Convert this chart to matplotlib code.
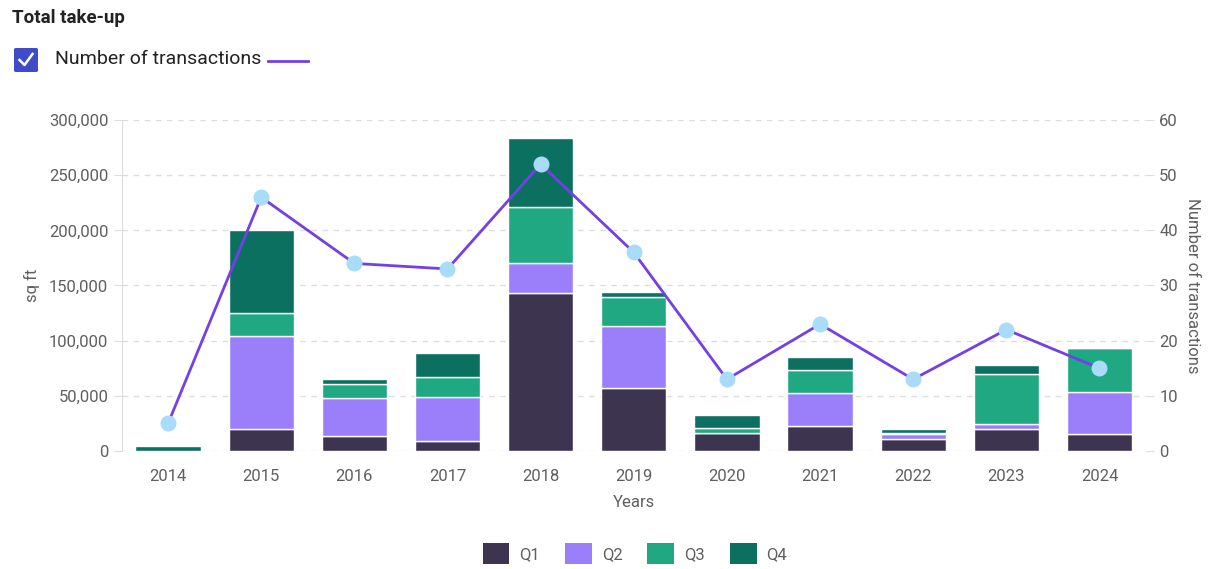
import numpy as np
import matplotlib.pyplot as plt
from matplotlib.patches import FancyBboxPatch, Patch
from matplotlib.lines import Line2D
from matplotlib.ticker import FuncFormatter

plt.rcParams['font.family'] = ['Roboto', 'DejaVu Sans']

years = ['2014', '2015', '2016', '2017', '2018', '2019', '2020', '2021', '2022', '2023', '2024']
q1 = [0, 20000, 13600, 9000, 143000, 57000, 16300, 22600, 10500, 19700, 15400]
q2 = [0, 84000, 34400, 40000, 27000, 56000, 0, 29900, 4500, 4800, 38000]
q3 = [0, 21000, 12700, 18000, 51000, 27000, 4500, 20800, 1000, 45300, 39800]
q4 = [4500, 75000, 4500, 22000, 62600, 4000, 11800, 11800, 4000, 8200, 0]
transactions = [5, 46, 34, 33, 52, 36, 13, 23, 13, 22, 15]

kolory = ['#3d3550', '#9b7ffa', '#1fa882', '#0b7060']
nazwy = ['Q1', 'Q2', 'Q3', 'Q4']
kolor_linii = '#7340e8'
szary = '#5f5f5f'

fig = plt.figure(figsize=(12.14, 5.69), dpi=100)
ax = fig.add_axes([0.1001, 0.2074, 0.8439, 0.5817])
ax2 = ax.twinx()

x = np.arange(len(years))
dol = np.zeros(len(years))
for wartosci, kolor in zip([q1, q2, q3, q4], kolory):
    ax.bar(x, wartosci, 0.7, bottom=dol, color=kolor, edgecolor='white', linewidth=1.0, zorder=2)
    dol += np.array(wartosci)

ax.set_xlim(-0.5, len(years) - 0.5)
ax.set_ylim(0, 300000)
ax.set_yticks(np.arange(0, 300001, 50000))
ax.yaxis.set_major_formatter(FuncFormatter(lambda v, p: f'{int(v):,}'))
ax.set_xticks(x)
ax.set_xticklabels(years)
ax.grid(axis='y', color='#dddddd', linestyle=(0, (4, 4)), linewidth=1, zorder=0)
ax.set_axisbelow(True)
for s in ['top', 'right', 'bottom']:
    ax.spines[s].set_visible(False)
ax.spines['left'].set_color('#dddddd')
ax.tick_params(axis='y', colors='#dddddd', labelcolor=szary, labelsize=12, length=6)
ax.tick_params(axis='x', length=0, labelcolor=szary, labelsize=12, pad=13)
ax.set_xlabel('Years', color=szary, fontsize=12, labelpad=8)
ax.set_ylabel('sq ft', color=szary, fontsize=12, labelpad=6)

ax2.plot(x, transactions, color=kolor_linii, linewidth=2, zorder=3)
ax2.scatter(x, transactions, s=110, color='#a8dcfa', zorder=4)
ax2.set_ylim(0, 60)
ax2.set_yticks(np.arange(0, 61, 10))
for s in ['top', 'right', 'bottom', 'left']:
    ax2.spines[s].set_visible(False)
ax2.tick_params(axis='y', colors='#dddddd', labelcolor=szary, labelsize=12, length=6)
ax2.set_ylabel('Number of transactions', color=szary, fontsize=12, rotation=270, labelpad=16)

# naglowek
fig.text(0.0099, 0.968, 'Total take-up', fontsize=13.5, fontweight='bold', color='#222222', va='center')
pole = FancyBboxPatch((14 / 1214, 1 - 72 / 569), 24 / 1214, 24 / 569,
                      boxstyle='round,pad=0,rounding_size=0.002', transform=fig.transFigure,
                      facecolor='#3f4bc7', edgecolor='none')
fig.patches.append(pole)
fig.lines.append(Line2D([19.5 / 1214, 24.5 / 1214, 32.5 / 1214], [1 - 60 / 569, 1 - 65 / 569, 1 - 54 / 569],
                        transform=fig.transFigure, color='white', linewidth=1.8))
fig.text(55 / 1214, 1 - 59 / 569, 'Number of transactions', fontsize=14, color='#222222', va='center')
fig.lines.append(Line2D([268 / 1214, 308 / 1214], [1 - 61 / 569, 1 - 61 / 569],
                        transform=fig.transFigure, color=kolor_linii, linewidth=2))

uchwyty = [Patch(facecolor=k, edgecolor='none', label=n) for k, n in zip(kolory, nazwy)]
fig.legend(handles=uchwyty, loc='center', bbox_to_anchor=(0.523, 0.027), ncol=4, frameon=False,
           fontsize=12, labelcolor=szary, handlelength=1.6, handleheight=1.6, columnspacing=1.5,
           handletextpad=0.6)

fig.savefig('out.png', dpi=100)
